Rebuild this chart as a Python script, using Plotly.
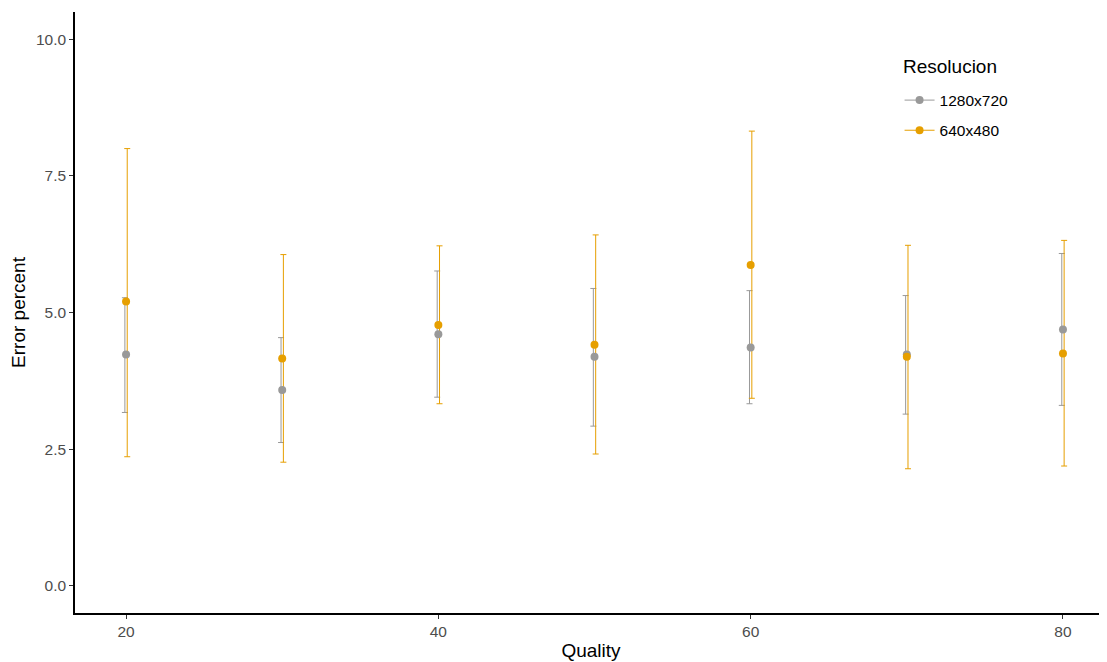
import plotly.graph_objects as go

quality = [20, 30, 40, 50, 60, 70, 80]
series_names = ["1280x720", "640x480"]
colors = {"1280x720": "#999999", "640x480": "#E69F00"}

mean_1280 = [4.23, 3.58, 4.60, 4.19, 4.36, 4.23, 4.69]
upper_1280 = [5.27, 4.54, 5.76, 5.44, 5.40, 5.31, 6.08]
lower_1280 = [3.17, 2.62, 3.45, 2.92, 3.33, 3.14, 3.30]

mean_640 = [5.20, 4.16, 4.77, 4.41, 5.87, 4.19, 4.25]
upper_640 = [8.00, 6.06, 6.22, 6.42, 8.32, 6.23, 6.32]
lower_640 = [2.36, 2.26, 3.33, 2.41, 3.43, 2.14, 2.19]

data = {
    "1280x720": (mean_1280, upper_1280, lower_1280, -0.075),
    "640x480": (mean_640, upper_640, lower_640, 0.075),
}

fig = go.Figure()
for name in series_names:
    m, u, l, dx = data[name]
    c = colors[name]
    fig.add_trace(go.Scatter(
        x=[q + dx for q in quality], y=m, mode="markers",
        marker=dict(size=1, color="rgba(0,0,0,0)"),
        error_y=dict(type="data", symmetric=False,
                     array=[a - b for a, b in zip(u, m)],
                     arrayminus=[b - a for a, b in zip(l, m)],
                     color=c, thickness=1, width=3),
        showlegend=False, hoverinfo="skip"))
for name in series_names:
    m, u, l, dx = data[name]
    c = colors[name]
    fig.add_trace(go.Scatter(
        x=quality, y=m, mode="markers",
        marker=dict(size=8, color=c), showlegend=False, name=name))
    fig.add_trace(go.Scatter(
        x=[None], y=[None], mode="lines+markers", name=name, legendgroup=name,
        marker=dict(size=8, color=c), line=dict(color=c, width=1)))

fig.add_annotation(
    text="Resolucion", xref="paper", yref="paper",
    x=0.8005, y=0.9085, xanchor="left", yanchor="middle", showarrow=False,
    font=dict(size=19, color="black"))

fig.update_layout(
    width=1099, height=654,
    margin=dict(l=67, r=0, t=4, b=49),
    plot_bgcolor="white", paper_bgcolor="white",
    font=dict(family="Liberation Sans, Arial, sans-serif", size=15.5, color="#4D4D4D"),
    legend=dict(
        x=0.799, y=0.881, xanchor="left", yanchor="top",
        font=dict(size=15.5, color="black"),
        bgcolor="rgba(0,0,0,0)", tracegroupgap=7,
    ),
    xaxis=dict(
        range=[16.73, 82.82], tickvals=[20, 40, 60, 80],
        showgrid=False, zeroline=False,
        showline=True, linecolor="black", linewidth=1.5,
        ticks="outside", ticklen=4, tickcolor="#333333",
        tickfont=dict(size=15.5, color="#4D4D4D"),
        title=dict(text="Quality", font=dict(size=19, color="black"), standoff=4),
    ),
    yaxis=dict(
        range=[-0.5, 10.5], tickvals=[0, 2.5, 5, 7.5, 10],
        ticktext=["0.0", "2.5", "5.0", "7.5", "10.0"],
        showgrid=False, zeroline=False,
        showline=True, linecolor="black", linewidth=1.5,
        ticks="outside", ticklen=4, tickcolor="#333333",
        tickfont=dict(size=15.5, color="#4D4D4D"),
        title=dict(text="Error percent", font=dict(size=19, color="black"), standoff=6),
    ),
)

fig.write_html("out.html")
